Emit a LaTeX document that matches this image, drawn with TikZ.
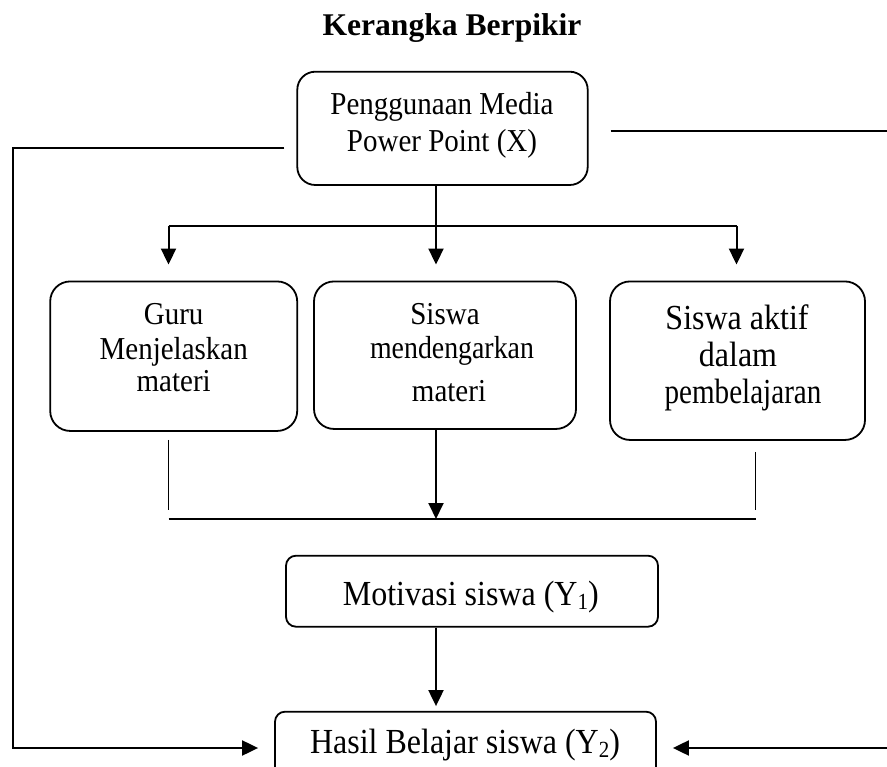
\documentclass[tikz,border=0pt]{standalone}
\usepackage{graphicx}
\usepackage{fontspec}
\setmainfont{Liberation Serif}
\usetikzlibrary{arrows.meta}
\newcommand\mysub[1]{\raisebox{-4pt}{\fontsize{21}{21}\selectfont #1}}
\newcommand\vst[2][1]{\scalebox{#1}[1.1]{#2}}
\begin{document}
\begin{tikzpicture}[x=1pt,y=-1pt,
  box/.style={draw, line width=1.8pt, rounded corners=20pt, inner sep=0pt},
  sbox/.style={box, rounded corners=10pt},
  conn/.style={line width=2pt},
  thinline/.style={line width=1.3pt},
  arr/.style={conn, -{Triangle[length=16pt,width=15pt]}},
  txtA/.style={font=\fontsize{29}{33}\selectfont, anchor=base, inner sep=0pt},
  txtB/.style={font=\fontsize{32}{37}\selectfont, anchor=base, inner sep=0pt},
  ttl/.style={font=\bfseries\fontsize{31.6}{36}\selectfont, anchor=base, inner sep=0pt},
]
\useasboundingbox (0,0) rectangle (887,767);
\node[ttl] (title) at (452,36) {Kerangka Berpikir};
\node[box, rounded corners=18pt, minimum width=290.4pt, minimum height=113.3pt] (top) at (442.5,128.35) {};
\node[box, minimum width=247pt, minimum height=149.5pt] (b1) at (173.7,356.2) {};
\node[box, minimum width=262pt, minimum height=147.5pt] (b2) at (445,355.2) {};
\node[box, minimum width=255pt, minimum height=158.5pt] (b3) at (737.5,360.7) {};
\node[sbox, minimum width=372pt, minimum height=71pt] (mot) at (472,591.2) {};
\node[sbox, minimum width=381pt, minimum height=72.6pt] (hasil) at (465.5,748) {};
\node[txtA] (t0a) at (442,115) {\vst{Penggunaan Media}};
\node[txtA] (t0b) at (442,152) {\vst{Power Point (X)}};
\node[txtA] (t1a) at (173.7,325) {\vst{Guru}};
\node[txtA] (t1b) at (173.7,359.3) {\vst{Menjelaskan}};
\node[txtA] (t1c) at (173.7,391.7) {\vst{materi}};
\node[txtA] (t2a) at (445,325) {\vst{Siswa}};
\node[txtA] (t2b) at (452,358.3) {\vst[0.96]{mendengarkan}};
\node[txtA] (t2c) at (449,401.7) {\vst{materi}};
\node[txtB] (t3a) at (737,329.3) {\vst{Siswa aktif}};
\node[txtB] (t3b) at (738,366.7) {\vst{dalam}};
\node[txtB] (t3c) at (743,403.3) {\vst[0.91]{pembelajaran}};
\node[txtB] (tm) at (470.8,605) {\vst{Motivasi siswa (Y\mysub{1})}};
\node[txtB] (th) at (465,753) {\vst{Hasil Belajar siswa (Y\mysub{2})}};
\coordinate (bl) at (168.5,226);
\coordinate (br) at (736.5,226);
\coordinate (cl) at (168.5,519);
\coordinate (cr) at (755.6,519);
\coordinate (jbot) at (436,519);
\coordinate (lc) at (12.8,748);
\coordinate (rc) at (893,748);
\draw[arr, shorten >=16pt] ([xshift=-6.5pt]top.south) -- ([xshift=-9pt]b2.north);
\draw[conn] (bl) -- (br);
\draw[arr, shorten >=16pt] (bl) -- (bl |- b1.north);
\draw[arr, shorten >=16pt] (br) -- (br |- b3.north);
\draw[thinline, shorten <=8pt, shorten >=9pt] (b1.south -| cl) -- (cl);
\draw[thinline, shorten <=11pt, shorten >=9pt] (b3.south -| cr) -- (cr);
\draw[conn] (cl) -- (cr);
\draw[arr] (b2.south -| jbot) -- (jbot);
\draw[arr, shorten >=4.7pt] ([xshift=-36pt]mot.south) -- ([xshift=-29.5pt]hasil.north);
\draw[arr, shorten >=16pt] ([xshift=-12pt,yshift=-19.6pt]top.west) -| (lc) -- (hasil.west);
\draw[arr, shorten >=16pt] ([xshift=22pt,yshift=-2.6pt]top.east) -| (rc) -- (hasil.east);
\end{tikzpicture}
\end{document}
